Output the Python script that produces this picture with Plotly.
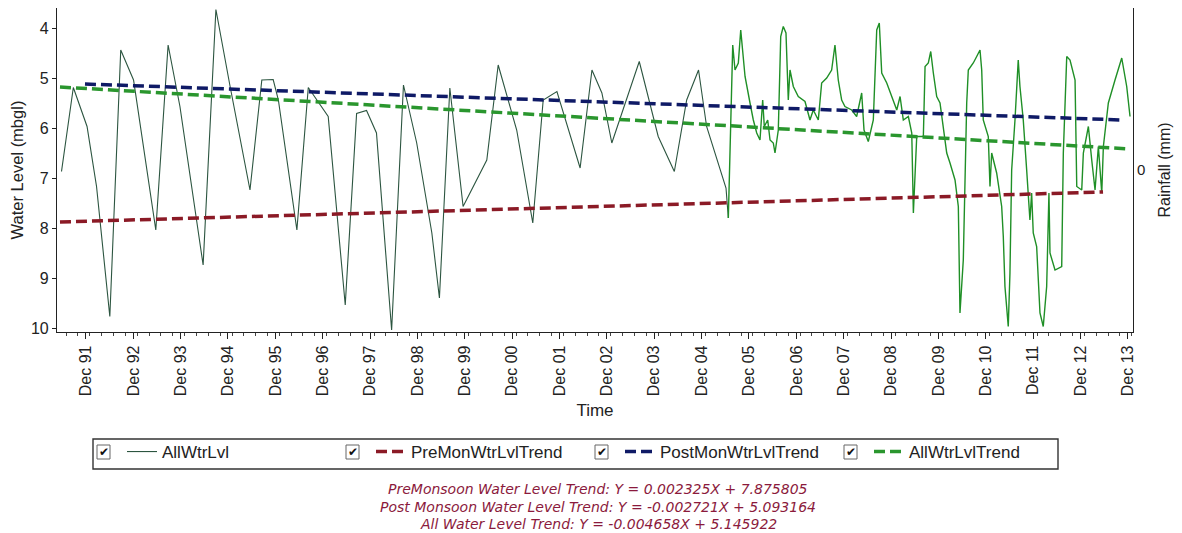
import plotly.graph_objects as go
import pandas as pd

# ---------------- data (decimal years, water level in m bgl) ----------------
sparse_years = [1991.40, 1991.65, 1991.94, 1992.14, 1992.42, 1992.65, 1992.92, 1993.39,
                1993.65, 1993.90, 1994.39, 1994.66, 1994.96, 1995.38, 1995.63, 1995.87,
                1995.98, 1996.37, 1996.61, 1997.03, 1997.39, 1997.63, 1997.84, 1998.05,
                1998.37, 1998.62, 1998.90, 1999.22, 1999.38, 1999.60, 1999.88, 2000.38,
                2000.62, 2001.01, 2001.35, 2001.57, 2001.86, 2002.35, 2002.60, 2002.81,
                2003.02, 2003.60, 2004.00, 2004.34, 2004.60, 2004.85, 2005.02, 2005.43,
                2005.479]
sparse_level = [6.87, 5.19, 5.97, 7.17, 9.77, 4.44, 5.04, 8.04,
                4.34, 5.57, 8.74, 3.63, 5.17, 7.24, 5.04, 5.03,
                5.44, 8.04, 5.19, 5.77, 9.54, 5.71, 5.65, 6.10,
                10.04, 5.14, 6.30, 8.10, 9.40, 5.20, 7.57, 6.64,
                4.74, 6.04, 7.90, 5.44, 5.27, 6.80, 4.84, 5.30,
                6.30, 4.67, 6.17, 6.87, 5.44, 4.84, 5.97, 7.20,
                7.80]

dense_years = [2005.479, 2005.551, 2005.572, 2005.620, 2005.690, 2005.741, 2005.796, 2005.832,
               2005.937, 2006.007, 2006.079, 2006.148, 2006.205, 2006.239, 2006.311, 2006.360,
               2006.429, 2006.465, 2006.535, 2006.586, 2006.640, 2006.697, 2006.746, 2006.782,
               2006.852, 2006.957, 2007.099, 2007.204, 2007.274, 2007.380, 2007.451, 2007.557,
               2007.662, 2007.732, 2007.802, 2007.874, 2007.943, 2008.085, 2008.190, 2008.296,
               2008.345, 2008.435, 2008.541, 2008.613, 2008.667, 2008.718, 2008.824, 2008.929,
               2009.035, 2009.105, 2009.174, 2009.280, 2009.352, 2009.386, 2009.457, 2009.597,
               2009.633, 2009.702, 2009.753, 2009.808, 2009.879, 2009.949, 2010.091, 2010.160,
               2010.266, 2010.336, 2010.371, 2010.441, 2010.513, 2010.547, 2010.652, 2010.724,
               2010.794, 2010.830, 2010.863, 2010.969, 2011.005, 2011.041, 2011.146, 2011.252,
               2011.286, 2011.321, 2011.391, 2011.427, 2011.463, 2011.533, 2011.602, 2011.638,
               2011.708, 2011.780, 2011.849, 2011.885, 2011.919, 2011.991, 2012.061, 2012.130,
               2012.202, 2012.250, 2012.272, 2012.378, 2012.519, 2012.553, 2012.625, 2012.694,
               2012.800, 2012.836, 2012.941, 2012.975, 2013.081, 2013.152, 2013.222, 2013.292,
               2013.364, 2013.398, 2013.503, 2013.644, 2013.786, 2013.891, 2013.961]
dense_level = [7.80, 5.17, 4.34, 4.84, 4.70, 4.04, 4.70, 4.97,
               5.50, 5.84, 6.10, 6.24, 5.44, 5.97, 5.84, 6.24,
               6.30, 6.50, 6.04, 4.17, 3.97, 4.10, 5.44, 4.84,
               5.17, 5.37, 5.47, 5.84, 5.64, 5.84, 5.10, 5.00,
               4.84, 4.34, 5.04, 5.44, 5.57, 5.64, 5.77, 5.30,
               6.04, 6.27, 5.84, 4.04, 3.90, 4.90, 5.10, 5.37,
               5.64, 5.37, 5.84, 5.77, 6.10, 7.70, 6.17, 6.17,
               4.77, 4.70, 4.47, 4.90, 5.37, 5.50, 6.50, 6.70,
               7.04, 7.57, 9.70, 8.64, 5.50, 4.84, 4.70, 4.57,
               4.44, 4.84, 5.84, 6.17, 7.17, 6.50, 6.90, 7.57,
               8.17, 9.17, 9.97, 8.90, 6.84, 5.84, 4.64, 5.17,
               5.84, 6.84, 7.84, 7.30, 8.10, 8.37, 9.70, 9.97,
               9.17, 7.30, 8.50, 8.84, 8.77, 6.50, 4.57, 4.64,
               5.04, 7.17, 7.24, 6.50, 5.97, 6.64, 7.24, 6.37,
               7.30, 6.37, 5.50, 5.04, 4.60, 5.17, 5.77]

pre_trend_years = [1991.368, 2013.391]
pre_trend_level = [7.88, 7.28]
post_trend_years = [1991.896, 2013.792]
post_trend_level = [5.12, 5.84]
all_trend_years = [1991.368, 2013.961]
all_trend_level = [5.18, 6.42]

legend_names = ["AllWtrLvl", "PreMonWtrLvlTrend", "PostMonWtrLvlTrend", "AllWtrLvlTrend"]
equations = [
    "PreMonsoon Water Level Trend: Y = 0.002325X + 7.875805",
    "Post Monsoon Water Level Trend: Y = -0.002721X + 5.093164",
    "All Water Level Trend: Y = -0.004658X + 5.145922",
]
y_ticks = [4, 5, 6, 7, 8, 9, 10]


def to_date(v):
    y = int(v)
    start = pd.Timestamp(year=y, month=1, day=1)
    end = pd.Timestamp(year=y + 1, month=1, day=1)
    return start + (end - start) * (v - y)


def dates(lst):
    return [to_date(v) for v in lst]


# ---------------- layout geometry ----------------
# the page adds an 8px body margin, so the figure is drawn 8px smaller and
# screen pixel positions are converted accordingly
OFF = 8
W, H = 1182 - OFF, 533 - OFF
L, R, T, B = 49, 49, 0, 201
PW, PH = W - L - R, H - T - B


def px(xp):
    return (xp - OFF - L) / PW


def py(yp):
    return (H - B - (yp - OFF)) / PH


FONT = "Liberation Sans, Arial, sans-serif"
DASH = "11px,5px"

fig = go.Figure()

fig.add_trace(go.Scatter(x=dates(sparse_years), y=sparse_level, mode="lines",
                         name=legend_names[0], legendgroup="all",
                         line=dict(color="#2c5540", width=1.1)))
fig.add_trace(go.Scatter(x=dates(dense_years), y=dense_level, mode="lines",
                         name=legend_names[0], legendgroup="all", showlegend=False,
                         line=dict(color="#1f8f26", width=1.4)))
fig.add_trace(go.Scatter(x=dates(pre_trend_years), y=pre_trend_level, mode="lines",
                         name=legend_names[1],
                         line=dict(color="#8b1a26", width=3.5, dash=DASH)))
fig.add_trace(go.Scatter(x=dates(post_trend_years), y=post_trend_level, mode="lines",
                         name=legend_names[2],
                         line=dict(color="#0f1a66", width=3.5, dash=DASH)))
fig.add_trace(go.Scatter(x=dates(all_trend_years), y=all_trend_level, mode="lines",
                         name=legend_names[3],
                         line=dict(color="#2a962e", width=3.5, dash=DASH)))
# rainfall axis (no rainfall values shown)
fig.add_trace(go.Scatter(x=[to_date(2000.0)], y=[None], yaxis="y2", mode="lines",
                         showlegend=False, hoverinfo="skip"))

shapes = []
annotations = []
# legend border
shapes.append(dict(type="rect", xref="paper", yref="paper",
                   x0=px(93), x1=px(1058), y0=py(439), y1=py(469),
                   line=dict(color="#333333", width=1.4), fillcolor="rgba(0,0,0,0)"))
# checkboxes
for cx in [97, 346, 595, 844]:
    shapes.append(dict(type="rect", xref="paper", yref="paper",
                       x0=px(cx), x1=px(cx + 13), y0=py(445), y1=py(459),
                       line=dict(color="#666666", width=1), fillcolor="white"))
    annotations.append(dict(text="✔", xref="paper", yref="paper",
                            x=px(cx + 6.5), y=py(451.5), showarrow=False,
                            xanchor="center", yanchor="middle",
                            font=dict(family="DejaVu Sans", size=12, color="#111111")))
for i, (txt, yy) in enumerate(zip(equations, [489, 506.5, 524])):
    annotations.append(dict(text="<i>" + txt + "</i>", xref="paper", yref="paper",
                            x=px(598), y=py(yy), showarrow=False,
                            xanchor="center", yanchor="middle",
                            font=dict(family="DejaVu Sans", size=14, color="#8b1a3c")))

fig.update_layout(
    width=W, height=H,
    margin=dict(l=L, r=R, t=T, b=B, autoexpand=False),
    paper_bgcolor="white", plot_bgcolor="white",
    font=dict(family=FONT, size=16, color="#222222"),
    showlegend=True,
    legend=dict(orientation="h", x=px(122), xanchor="left", y=py(434), yanchor="top",
                entrywidth=204, entrywidthmode="pixels", borderwidth=0,
                bgcolor="rgba(0,0,0,0)", font=dict(family=FONT, size=17, color="#222222"),
                itemwidth=30, tracegroupgap=0),
    shapes=shapes,
    annotations=annotations,
    xaxis=dict(
        type="date",
        range=[to_date(1991.305), to_date(2014.024)],
        tick0="1991-12-01", dtick="M12", tickformat="%b %y", tickangle=-90,
        ticks="outside", ticklen=6, tickcolor="#222222",
        minor=dict(dtick="M3", ticks="outside", ticklen=3, tickcolor="#444444"),
        showline=True, linecolor="#222222", linewidth=1.2, mirror=True,
        showgrid=False, zeroline=False,
        title=dict(text="Time", standoff=8, font=dict(size=17)),
        tickfont=dict(size=16),
    ),
    yaxis=dict(
        range=[10.08, 3.6], tickvals=y_ticks,
        ticks="outside", ticklen=4, tickcolor="#222222",
        showline=True, linecolor="#222222", linewidth=1.2, mirror=True,
        showgrid=False, zeroline=False,
        title=dict(text="Water Level (mbgl)", standoff=6, font=dict(size=16.5)),
        tickfont=dict(size=16),
    ),
    yaxis2=dict(
        overlaying="y", side="right", range=[-1, 1], tickvals=[0],
        ticks="", showline=True, linecolor="#222222", linewidth=1.2,
        showgrid=False, zeroline=False,
        title=dict(text="Rainfall (mm)", standoff=14, font=dict(size=16)),
        tickfont=dict(size=15),
    ),
)

fig.write_html("out.html")
